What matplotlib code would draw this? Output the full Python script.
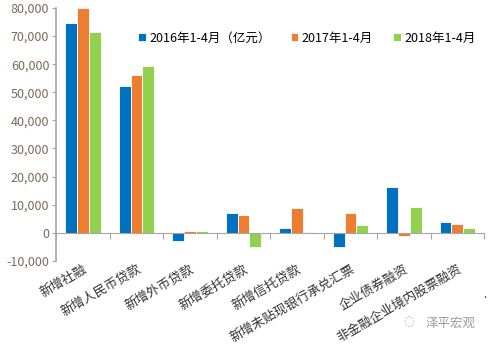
import numpy as np
import matplotlib.pyplot as plt

plt.rcParams['font.family'] = ['Noto Sans CJK SC', 'DejaVu Sans']

# 数据（亿元）
categories = ['新增社融', '新增人民币贷款', '新增外币贷款', '新增委托贷款',
              '新增信托贷款', '新增未贴现银行承兑汇票', '企业债券融资',
              '非金融企业境内股票融资']
y2016 = [74800, 52400, -3000, 7200, 1700, -5100, 16200, 3700]
y2017 = [80100, 56000, 500, 6200, 8900, 7000, -1300, 3300]
y2018 = [71500, 59500, 500, -5200, 400, 2600, 9300, 1700]
labels = ['2016年1-4月（亿元）', '2017年1-4月', '2018年1-4月']
colors = ['#0070C0', '#ED7D31', '#92D050']

fig = plt.figure(figsize=(4.89, 3.46), dpi=100)
ax = fig.add_axes([0.115, 0.246, 0.875, 0.731])

x = np.arange(len(categories))
w = 0.22
for i, (vals, lab, c) in enumerate(zip([y2016, y2017, y2018], labels, colors)):
    ax.bar(x + (i - 1) * w, vals, width=w, color=c, label=lab,
           edgecolor='white', linewidth=0.6)

ax.set_xlim(-0.5, len(categories) - 0.5)
ax.set_ylim(-10000, 80000)
ax.set_yticks(np.arange(-10000, 80001, 10000))
ax.set_yticklabels([f'{v:,}' for v in range(-10000, 80001, 10000)])
ax.tick_params(axis='y', colors='#7a6a5a', labelsize=9, length=3,
               width=0.8, pad=2)
ax.tick_params(axis='y', color='#a6a6a6')

# 横轴放在 0 处，刻度在类别之间
ax.spines['bottom'].set_position(('data', 0))
ax.spines['bottom'].set_color('#a6a6a6')
ax.spines['left'].set_color('#a6a6a6')
ax.spines['left'].set_linewidth(1.2)
ax.spines['top'].set_visible(False)
ax.spines['right'].set_visible(False)
ax.set_xticks(np.arange(-0.5, len(categories), 1.0))
ax.set_xticklabels([])
ax.tick_params(axis='x', direction='out', length=4, color='#a6a6a6')

for xi, name in zip(x, categories):
    ax.text(xi + 0.12, -10600, name, rotation=30, ha='right', va='top',
            fontsize=9.3, color='#333333')

ax.legend(loc='upper left', bbox_to_anchor=(0.165, 0.95), ncol=3, frameon=False,
          fontsize=9, handlelength=0.6, handleheight=0.6, handletextpad=0.3,
          columnspacing=1.6)

fig.text(0.87, 0.055, '泽平宏观', fontsize=9, color='#9a9a9a')
fig.text(0.825, 0.06, '◌', fontsize=9, color='#b0b0b0', family='DejaVu Sans')
fig.text(0.988, 0.14, '.', fontsize=8, color='#333333')

fig.savefig('out.png', dpi=100)
